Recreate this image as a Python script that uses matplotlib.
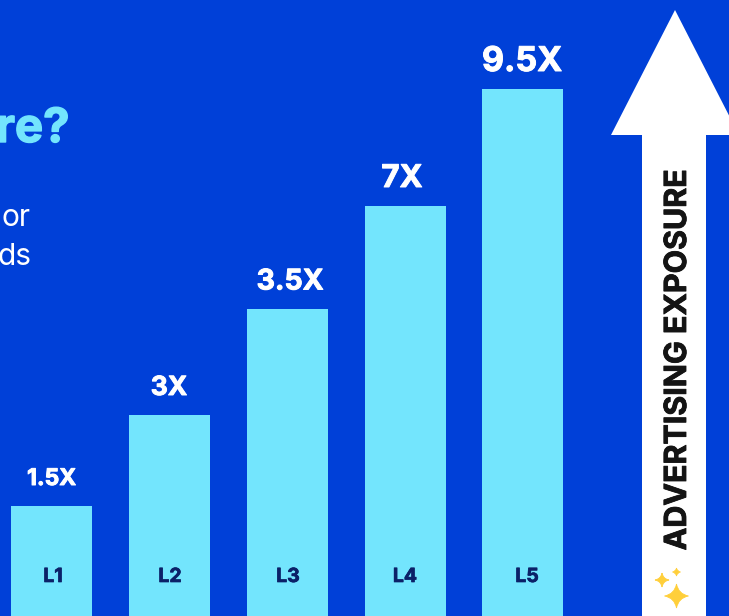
import matplotlib
matplotlib.use('Agg')
import matplotlib.pyplot as plt
import matplotlib.patheffects as pe
from matplotlib.patches import Polygon, Rectangle, PathPatch
from matplotlib.path import Path

categories = ['L1', 'L2', 'L3', 'L4', 'L5']
bar_heights = [110, 201, 307, 410, 527]
value_labels = ['1.5X', '3X', '3.5X', '7X', '9.5X']
bar_centers = [51.5, 169.5, 287.5, 405.5, 522.5]

BG = '#0040D8'
BAR = '#73E5FD'
DARK = '#0B2168'
FONT = ['Inter', 'DejaVu Sans']

fig = plt.figure(figsize=(7.29, 6.16), dpi=100, facecolor=BG)
ax = fig.add_axes([0, 0, 1, 1])
ax.set_xlim(0, 729)
ax.set_ylim(0, 616)
ax.axis('off')

ax.bar(bar_centers, bar_heights, width=81, color=BAR, linewidth=0)

def thicken(t, w=0.7):
    t.set_path_effects([pe.withStroke(linewidth=w, foreground=t.get_color())])

sizes = [16.5, 19, 20.5, 22.5, 24.5]
label_x = [51.5, 169, 290, 402, 522]
heavy = dict(fontweight='bold', family=FONT, ha='center', va='center')
for x, h, lab, s in zip(label_x, bar_heights, value_labels, sizes):
    thicken(ax.text(x, h + 27, lab, color='white', fontsize=s, **heavy))
for x, lab in zip([53, 170, 288, 405, 527], categories):
    thicken(ax.text(x, 39, lab, color=DARK, fontsize=14, **heavy), 0.5)

# cropped heading and body text
thicken(ax.text(69.5, 486, 're?', color=BAR, fontsize=34, fontweight='bold', family=FONT,
                ha='right', va='center'), 1.0)
ax.text(31, 398, 'or', color='white', fontsize=21.5, family=FONT, ha='right', va='center')
ax.text(32, 359, 'ds', color='white', fontsize=21.5, family=FONT, ha='right', va='center')

# arrow
ax.add_patch(Rectangle((642.5, 0), 63.5, 482, fc='white', ec='none'))
ax.add_patch(Polygon([(611, 481), (675, 606), (739, 481)], closed=True, fc='white', ec='none'))
thicken(ax.text(678, 256, 'ADVERTISING EXPOSURE', rotation=90, color='#141414', fontsize=21.9,
                fontweight='bold', family=FONT, ha='center', va='center'), 0.6)

def sparkle(cx, cy, r):
    k = 0.16 * r
    verts = [(cx, cy + r), (cx + k, cy + k), (cx + r, cy), (cx + k, cy - k), (cx, cy - r),
             (cx - k, cy - k), (cx - r, cy), (cx - k, cy + k), (cx, cy + r)]
    codes = [Path.MOVETO] + [Path.CURVE3] * 8
    ax.add_patch(PathPatch(Path(verts, codes), fc='#FFCF3A', ec='#FFCF3A', lw=0.6))

sparkle(676.5, 20, 12)
sparkle(662, 36, 7)
sparkle(676.5, 44, 4)

fig.savefig('out.png', dpi=100, facecolor=BG)
